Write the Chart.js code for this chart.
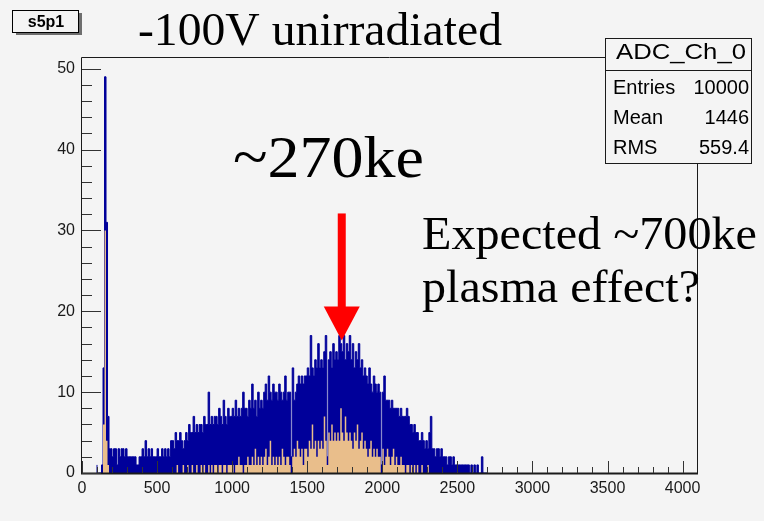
<!DOCTYPE html>
<html><head><meta charset="utf-8">
<script src="https://cdn.jsdelivr.net/npm/chart.js@4.4.1/dist/chart.umd.min.js"></script>
<style>html,body{margin:0;padding:0;background:#f4f4f4;}canvas{display:block;}</style>
</head><body>
<canvas id="c" width="764" height="521"></canvas>
<script>
// ---- data (ADC histogram, 10-unit bins starting at 100) ----
const binStart = 100;
const binWidth = 10;
// upper envelope (blue line / fill)
const countsMax = [
  1,0,0,0,1,13,49,31,7,3,
  3,2,3,3,1,3,2,3,3,2,
  3,2,2,2,2,2,2,1,1,2,
  2,3,2,4,2,3,2,3,2,2,
  2,3,2,2,3,2,3,2,3,2,
  4,4,3,5,4,4,5,4,3,4,
  5,4,6,5,5,7,5,6,5,6,
  6,5,7,6,6,10,6,7,6,7,
  7,6,8,7,6,9,7,6,8,7,
  7,8,7,9,7,8,7,8,10,8,
  8,7,9,8,11,8,9,7,10,8,
  9,8,10,11,9,12,10,9,11,10,
  10,9,11,10,9,10,12,9,10,10,
  2,13,9,10,11,12,11,12,11,12,
  12,13,12,17,13,12,14,13,16,13,
  14,13,15,17,2,14,15,13,16,14,
  15,14,17,16,15,17,14,16,15,17,
  14,16,13,15,14,16,13,14,12,13,
  12,11,13,11,10,12,11,10,11,10,
  1,10,12,9,9,9,8,9,8,8,
  8,8,7,8,7,7,7,8,7,6,
  6,5,6,5,5,4,4,5,4,3,
  4,3,5,7,3,3,2,3,3,2,
  3,2,2,2,1,2,2,1,2,1,
  1,1,1,1,1,1,1,1,1,0,
  1,0,1,0,1,0,0,2,0,0
];
// lower envelope (orange fill)
const countsMin = [
  0,0,0,0,0,6,30,4,1,0,
  0,0,0,0,0,0,0,0,0,0,
  0,0,0,0,0,0,0,0,0,0,
  0,0,0,0,0,0,0,0,0,0,
  0,0,0,0,0,0,0,0,0,0,
  0,0,0,0,1,0,0,0,1,0,
  0,1,0,0,1,0,0,1,0,0,
  1,0,1,0,0,1,0,1,0,1,
  1,0,1,1,0,1,1,0,1,1,
  1,1,0,1,1,2,1,1,0,1,
  1,2,1,1,2,1,3,1,2,1,
  2,1,2,3,1,2,4,1,2,1,
  2,1,2,1,3,2,1,2,2,1,
  0,2,3,2,4,3,2,3,1,3,
  3,2,4,3,6,3,4,2,4,3,
  4,3,7,4,1,5,4,6,4,5,
  4,5,4,8,5,4,7,5,4,5,
  4,3,5,4,6,3,4,5,3,4,
  3,2,3,4,2,3,2,3,2,2,
  0,3,1,2,3,2,1,2,3,1,
  2,1,1,2,1,1,0,1,1,0,
  1,0,1,0,1,0,0,1,0,0,
  0,1,0,0,0,0,0,0,0,0,
  0,0,0,0,0,0,0,0,0,0,
  0,0,0,0,0,0,0,0,0,0,
  0,0,0,0,0,0,0,0,0,0
];
const xRange = [0, 4096];
const yRange = [0, 51.45];
const xTickValues = [0, 500, 1000, 1500, 2000, 2500, 3000, 3500, 4000];
const yTickValues = [0, 10, 20, 30, 40, 50];
const xMinorStep = 100;
const yMinorStep = 2;
const titleText = '-100V unirradiated';
const padLabel = 's5p1';
const peakText = '~270ke';
const noteLines = ['Expected ~700ke', 'plasma effect?'];
const arrowX = 1730, arrowTop = 32.1, arrowHeadBase = 20.6, arrowTip = 16.4;
const statsTitle = 'ADC_Ch_0';
const statsRows = [['Entries', '10000'], ['Mean', '1446'], ['RMS', '559.4']];

function toPoints(arr) {
  const p = [];
  arr.forEach((v, i) => p.push({x: binStart + i * binWidth, y: v}));
  p.push({x: binStart + arr.length * binWidth, y: 0});
  return p;
}

const SANS = "'Liberation Sans', Arial, Helvetica, sans-serif";
const SERIF = "'Liberation Serif', 'Times New Roman', serif";

function fitText(ctx, text, x, y, font, w, align) {
  ctx.save();
  ctx.font = font;
  const m = ctx.measureText(text).width;
  const s = w ? w / m : 1;
  ctx.translate(x, y);
  ctx.scale(s, 1);
  ctx.textAlign = align || 'left';
  ctx.textBaseline = 'alphabetic';
  ctx.fillText(text, 0, 0);
  ctx.restore();
}

const rootDecor = {
  id: 'rootDecor',
  beforeDraw(chart) {
    const ctx = chart.ctx;
    ctx.save();
    ctx.fillStyle = '#f4f4f4';
    ctx.fillRect(0, 0, chart.width, chart.height);
    ctx.restore();
  },
  afterDatasetsDraw(chart) {
    const ctx = chart.ctx;
    const a = chart.chartArea;
    const xs = chart.scales.x, ys = chart.scales.y;
    ctx.save();
    // frame
    ctx.strokeStyle = '#1a1a1a';
    ctx.lineWidth = 1;
    ctx.beginPath();
    ctx.moveTo(a.left - 0.5, a.bottom);
    ctx.lineTo(a.left - 0.5, a.top + 0.5);
    ctx.lineTo(a.right + 0.5, a.top + 0.5);
    ctx.lineTo(a.right + 0.5, a.bottom);
    ctx.stroke();
    ctx.lineWidth = 2;
    ctx.beginPath();
    ctx.moveTo(a.left - 1, a.bottom + 0.5);
    ctx.lineTo(a.right + 1, a.bottom + 0.5);
    ctx.stroke();
    // ticks
    ctx.lineWidth = 1;
    ctx.strokeStyle = '#333';
    ctx.beginPath();
    for (let v = yRange[0]; v <= yRange[1]; v += yMinorStep) {
      const py = Math.round(ys.getPixelForValue(v)) + 0.5;
      const len = yTickValues.includes(v) ? 19 : 10;
      ctx.moveTo(a.left, py); ctx.lineTo(a.left + len, py);
    }
    for (let v = xRange[0]; v <= xRange[1]; v += xMinorStep) {
      const px = Math.round(xs.getPixelForValue(v)) + 0.5;
      const len = xTickValues.includes(v) ? 12 : 6;
      ctx.moveTo(px, a.bottom); ctx.lineTo(px, a.bottom - len);
    }
    ctx.stroke();
    // arrow
    const ax = xs.getPixelForValue(arrowX);
    const yTop = ys.getPixelForValue(arrowTop);
    const yBase = ys.getPixelForValue(arrowHeadBase);
    const yTip = ys.getPixelForValue(arrowTip);
    ctx.fillStyle = '#ff0000';
    ctx.fillRect(ax - 4, yTop, 8, yBase - yTop + 1);
    ctx.beginPath();
    ctx.moveTo(ax - 18, yBase);
    ctx.lineTo(ax + 18, yBase);
    ctx.lineTo(ax, yTip);
    ctx.closePath();
    ctx.fill();
    ctx.restore();
  },
  afterDraw(chart) {
    const ctx = chart.ctx;
    ctx.save();
    ctx.fillStyle = '#000';
    // title
    fitText(ctx, titleText, 138, 45, '46px ' + SERIF, 364, 'left');
    // pad label box
    ctx.fillStyle = '#6e6e6e';
    ctx.fillRect(16, 13, 66, 22);
    ctx.fillStyle = '#f4f4f4';
    ctx.fillRect(13, 10, 66, 22);
    ctx.strokeStyle = '#000';
    ctx.lineWidth = 1;
    ctx.strokeRect(12.5, 10.5, 66, 22);
    ctx.fillStyle = '#000';
    fitText(ctx, padLabel, 46, 27, 'bold 16px ' + SANS, 0, 'center');
    // annotations
    fitText(ctx, peakText, 233, 177, '60px ' + SERIF, 191, 'left');
    fitText(ctx, noteLines[0], 422, 249, '46px ' + SERIF, 335, 'left');
    fitText(ctx, noteLines[1], 422, 302, '46px ' + SERIF, 278, 'left');
    // stats box
    ctx.fillStyle = '#f4f4f4';
    ctx.fillRect(606, 39, 145, 124);
    ctx.strokeStyle = '#1a1a1a';
    ctx.strokeRect(605.5, 38.5, 146, 125);
    ctx.beginPath();
    ctx.moveTo(605.5, 70.5); ctx.lineTo(751.5, 70.5);
    ctx.stroke();
    ctx.fillStyle = '#000';
    fitText(ctx, statsTitle, 681, 59, '22px ' + SANS, 130, 'center');
    statsRows.forEach((r, i) => {
      const by = 94 + i * 30;
      fitText(ctx, r[0], 613, by, '20px ' + SANS, 0, 'left');
      fitText(ctx, r[1], 749, by, '20px ' + SANS, 0, 'right');
    });
    ctx.restore();
  }
};

new Chart(document.getElementById('c'), {
  type: 'line',
  data: {
    datasets: [
      {
        label: 'min',
        data: toPoints(countsMin),
        stepped: 'after',
        fill: 'origin',
        backgroundColor: '#e9be8b',
        borderColor: '#e9be8b',
        borderWidth: 0,
        pointRadius: 0,
        order: 0
      },
      {
        label: 'max',
        data: toPoints(countsMax),
        stepped: 'after',
        fill: 'origin',
        backgroundColor: '#00009a',
        borderColor: '#00009a',
        borderWidth: 1,
        pointRadius: 0,
        order: 1
      }
    ]
  },
  options: {
    responsive: false,
    animation: false,
    devicePixelRatio: 1,
    layout: {padding: {top: 57, right: 67, left: 0, bottom: 0}},
    plugins: {legend: {display: false}, tooltip: {enabled: false}},
    scales: {
      x: {
        type: 'linear',
        min: xRange[0], max: xRange[1],
        grid: {display: false, drawTicks: false},
        border: {display: false},
        afterBuildTicks: s => { s.ticks = xTickValues.map(v => ({value: v})); },
        ticks: {
          autoSkip: false, maxRotation: 0,
          padding: 6, color: '#1a1a1a',
          font: {family: SANS, size: 16},
          callback: v => String(v)
        },
        afterFit: s => { s.height = 48; }
      },
      y: {
        type: 'linear',
        min: yRange[0], max: yRange[1],
        grid: {display: false, drawTicks: false},
        border: {display: false},
        afterBuildTicks: s => { s.ticks = yTickValues.map(v => ({value: v})); },
        ticks: {
          padding: 7, color: '#1a1a1a',
          font: {family: SANS, size: 16},
          callback: v => String(v)
        },
        afterFit: s => { s.width = 82; }
      }
    }
  },
  plugins: [rootDecor]
});
</script>
</body></html>
